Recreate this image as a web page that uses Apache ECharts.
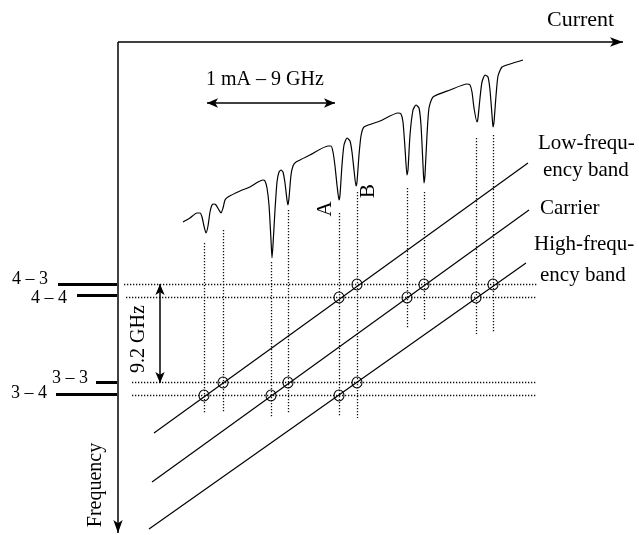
<!DOCTYPE html>
<html>
<head>
<meta charset="utf-8">
<script src="https://cdn.jsdelivr.net/npm/echarts@6/dist/echarts.min.js"></script>
<style>
html,body{margin:0;padding:0;background:#fff;}
#chart{width:639px;height:535px;}
</style>
</head>
<body>
<div id="chart"></div>
<script>
// ---- Diagram data (current along x, frequency downward along y) ----
// Measured absorption trace (current sweep)
const traceX = [183,190,197,200,202,204,206,208,210,212,214,216,219,221,223,225,228,240,250,258,263,265,267,269,271,272,273,275,277,279,281,283,285,287,288,289,291,293,296,310,328,331,333,335,337,339,340,342,344,347,350,352,354,356,357,359,361,364,380,398,401,403,405,407,408,410,413,416,419,421,423,424,425,427,429,433,450,467,470,472,474,477,478,480,482,485,488,490,492,493,494,496,498,502,510,523];
const traceY = [222,218,213,213,217,226,233,226,212,205,204,205,210,213,208,200,197,191,187,182,180,181,188,205,240,258,245,210,182,172,170,172,183,200,205,198,175,166,162,155,146,146,152,166,185,200,195,165,145,138,141,152,170,186,182,155,136,127,121,113,114,122,148,175,170,135,110,105,108,125,165,183,175,135,108,97,90,84,85,92,108,122,118,98,82,75,77,90,115,127,122,96,76,67,64,60];

// Resonance positions (vertical dotted markers)
const resonanceX = [204,223,271,288,339,357,407,424,476,493];
const resonanceTop = [243,230,262,210,213,192,188,192,138,135];
const resonanceBottom = [413,412,418,413,417,418,328,320,334,332];

// Hyperfine levels
const levelNames = ['4 – 3','4 – 4','3 – 3','3 – 4'];
const levelY = [284,295.5,382,394];
const levelStartX = [58,77,96,56];
const levelEndX = [117,117,117,117];

// Horizontal dotted level lines
const gridY = [284.5,297.5,382.5,395.5];
const gridStartX = [124,126,132,132];
const gridEndX = [538,537,536,537];

// Sidebands
const bandNames = ['Low-frequency band','Carrier','High-frequency band'];
const bandStartX = [154,152,149];
const bandStartY = [433,482,529];
const bandEndX = [528,529,526];
const bandEndY = [163,210,263];

// Crossings (resonance index, grid level index)
const crossRes = [0,1,4,5, 2,3,6,7, 4,5,8,9];
const crossLevel = [3,2,1,0, 3,2,1,0, 3,2,1,0];

// Axes and scale arrows
const currentAxis = [[118,42],[623,42]];
const frequencyAxis = [[118,42],[118,533]];
const splitArrow = [[160,284],[160,383]];
const scaleArrow = [[207,103],[335,103]];

const chart = echarts.init(document.getElementById('chart'), null, {renderer:'canvas'});
const FONT = 'Liberation Serif';
const dotted = {color:'#111', width:1.3, type:[1.3,1.7], opacity:1};

const option = {
  animation:false,
  backgroundColor:'#fff',
  grid:{left:0,right:0,top:0,bottom:0},
  xAxis:{type:'value',min:0,max:639,show:false},
  yAxis:{type:'value',min:0,max:535,inverse:true,show:false},
  series:[
    {
      type:'line', name:'trace',
      data: traceX.map((x,i)=>[x,traceY[i]]),
      showSymbol:false, smooth:0.2,
      lineStyle:{color:'#000',width:1.2}
    },
    {
      type:'lines', coordinateSystem:'cartesian2d', name:'resonances',
      data: resonanceX.map((x,i)=>({coords:[[x,resonanceTop[i]],[x,resonanceBottom[i]]]})),
      lineStyle: dotted
    },
    {
      type:'lines', coordinateSystem:'cartesian2d', name:'levelGrid',
      data: gridY.map((y,i)=>({coords:[[gridStartX[i],y],[gridEndX[i],y]]})),
      lineStyle: dotted
    },
    {
      type:'lines', coordinateSystem:'cartesian2d', name:'bands',
      data: bandNames.map((n,i)=>({name:n,coords:[[bandStartX[i],bandStartY[i]],[bandEndX[i],bandEndY[i]]]})),
      lineStyle:{color:'#000',width:1.2,opacity:1}
    },
    {
      type:'lines', coordinateSystem:'cartesian2d', name:'levels',
      data: levelNames.map((n,i)=>({name:n,coords:[[levelStartX[i],levelY[i]],[levelEndX[i],levelY[i]]]})),
      lineStyle:{color:'#000',width:3,opacity:1}
    },
    {
      type:'lines', coordinateSystem:'cartesian2d', name:'axes',
      symbol:['none','arrow'], symbolSize:[[7,13],[7,13]],
      data:[{coords:currentAxis},{coords:frequencyAxis}],
      lineStyle:{color:'#000',width:1.5,opacity:1}
    },
    {
      type:'lines', coordinateSystem:'cartesian2d', name:'split',
      symbol:['arrow','arrow'], symbolSize:[[7,11],[7,11]],
      data:[{coords:splitArrow}],
      lineStyle:{color:'#000',width:1.5,opacity:1}
    },
    {
      type:'lines', coordinateSystem:'cartesian2d', name:'scale',
      symbol:['arrow','arrow'], symbolSize:[[7,11],[7,11]],
      data:[{coords:scaleArrow}],
      lineStyle:{color:'#000',width:1.5,opacity:1}
    },
    {
      type:'scatter', name:'crossings',
      data: crossRes.map((r,i)=>[resonanceX[r],gridY[crossLevel[i]]]),
      symbol:'circle', symbolSize:[10,11],
      itemStyle:{color:'rgba(0,0,0,0)',borderColor:'#000',borderWidth:1.1,opacity:1},
      z:5
    }
  ],
  graphic:[
    {type:'text', x:547, y:20, style:{text:'Current', font:'22px '+FONT, fill:'#000', align:'left', verticalAlign:'middle'}},
    {type:'text', x:96, y:485, rotation:Math.PI/2, style:{text:'Frequency', font:'20px '+FONT, fill:'#000', align:'center', verticalAlign:'middle'}},
    {type:'text', x:206, y:80, style:{text:'1 mA – 9 GHz', font:'20px '+FONT, fill:'#000', align:'left', verticalAlign:'middle'}},
    {type:'text', x:139, y:339, rotation:Math.PI/2, style:{text:'9.2 GHz', font:'20px '+FONT, fill:'#000', align:'center', verticalAlign:'middle'}},
    {type:'text', x:325, y:209, rotation:Math.PI/2, style:{text:'A', font:'21px '+FONT, fill:'#000', align:'center', verticalAlign:'middle'}},
    {type:'text', x:368, y:191, rotation:Math.PI/2, style:{text:'B', font:'21px '+FONT, fill:'#000', align:'center', verticalAlign:'middle'}},
    {type:'text', x:538, y:143, style:{text:'Low-frequ-', font:'21px '+FONT, fill:'#000', align:'left', verticalAlign:'middle'}},
    {type:'text', x:543, y:170, style:{text:'ency band', font:'21px '+FONT, fill:'#000', align:'left', verticalAlign:'middle'}},
    {type:'text', x:540, y:208, style:{text:'Carrier', font:'21px '+FONT, fill:'#000', align:'left', verticalAlign:'middle'}},
    {type:'text', x:534, y:244.5, style:{text:'High-frequ-', font:'21px '+FONT, fill:'#000', align:'left', verticalAlign:'middle'}},
    {type:'text', x:540, y:275, style:{text:'ency band', font:'21px '+FONT, fill:'#000', align:'left', verticalAlign:'middle'}},
    {type:'text', x:12, y:279, style:{text:levelNames[0], font:'18px '+FONT, fill:'#000', align:'left', verticalAlign:'middle'}},
    {type:'text', x:31, y:298, style:{text:levelNames[1], font:'18px '+FONT, fill:'#000', align:'left', verticalAlign:'middle'}},
    {type:'text', x:52, y:378, style:{text:levelNames[2], font:'18px '+FONT, fill:'#000', align:'left', verticalAlign:'middle'}},
    {type:'text', x:11, y:393, style:{text:levelNames[3], font:'18px '+FONT, fill:'#000', align:'left', verticalAlign:'middle'}}
  ]
};
chart.setOption(option);
</script>
</body>
</html>
